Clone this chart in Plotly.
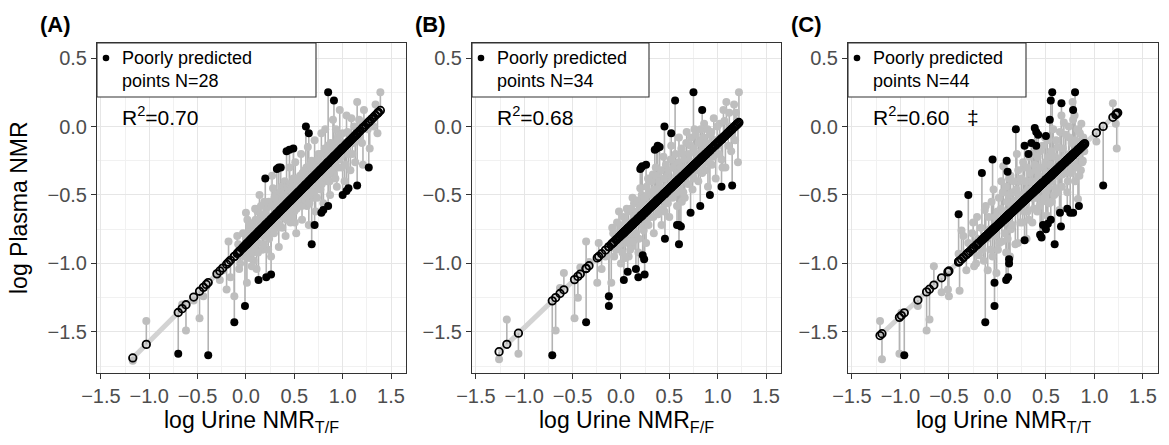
import plotly.graph_objects as go

W, H = 1169, 445

# ---------------- data ----------------
# observed points (x = log urine NMR, y = log plasma NMR), well predicted (grey)
A_OBS = [(-1.17,-1.71),(-1.03,-1.42),(-0.66,-1.30),(-0.62,-1.49),(-0.54,-1.27),(-0.48,-1.40),(-0.44,-1.24),
         (-0.41,-1.17),(-0.30,-1.07),(-0.27,-1.12),(-0.24,-1.05),(-0.20,-1.19),(-0.18,-0.84),(-0.16,-1.10),
         (-0.12,-1.24),(-0.08,-0.86),(-0.07,-1.04),(-0.04,-0.93),(0.00,-0.63),(0.01,-1.14),(0.03,-0.70),
         (0.05,-0.84),(0.08,-0.98),(0.11,-1.04),(0.12,-0.62),(0.14,-0.50),(0.15,-0.76),(0.17,-0.90),
         (0.19,-0.55),(0.22,-0.70),(0.24,-0.82),(0.26,-0.95),(0.27,-0.36),(0.28,-0.45),(0.30,-0.60),
         (0.32,-0.74),(0.34,-0.88),(0.36,-0.52),(0.38,-0.66),(0.40,-0.40),(0.41,-0.80),(0.43,-0.56),
         (0.45,-0.30),(0.46,-0.70),(0.48,-0.48),(0.50,-0.62),(0.51,-0.26),(0.52,-0.78),(0.54,-0.40),
         (0.55,-0.55),(0.57,-0.20),(0.58,-0.68),(0.60,-0.46),(0.61,-0.32),(0.63,-0.58),(0.64,-0.15),
         (0.65,-0.72),(0.67,-0.40),(0.68,-0.25),(0.70,-0.52),(0.71,-0.10),(0.72,-0.62),(0.74,-0.34),
         (0.75,-0.20),(0.77,-0.46),(0.78,-0.05),(0.80,-0.56),(0.81,-0.28),(0.82,-0.02),(0.84,-0.40),
         (0.85,-0.14),(0.87,-0.50),(0.88,-0.24),(0.90,0.05),(0.91,-0.35),(0.93,-0.02),(0.94,-0.44),
         (0.96,-0.16),(0.97,0.12),(0.99,-0.30),(1.00,-0.05),(1.02,-0.40),(1.04,0.08),(1.06,-0.20),
         (1.08,-0.32),(1.09,0.06),(1.11,-0.12),(1.13,-0.26),(1.15,0.18),(1.18,-0.08),(1.21,-0.28),
         (1.24,0.02),(1.28,-0.16),(1.30,0.05),(1.34,0.16),(1.36,-0.05),(1.37,0.10),(1.39,0.25),
         (-0.09,-0.80),(-0.06,-1.00),(-0.03,-0.78),(-0.02,-0.95),(0.02,-0.92),(0.04,-0.76),(0.06,-1.02),
         (0.07,-0.72),(0.09,-0.88),(0.10,-0.68),(0.13,-0.85),(0.16,-0.66),(0.18,-0.80),(0.21,-0.60),
         (0.23,-0.90),(0.25,-0.66),(0.29,-0.78),(0.31,-0.50),(0.33,-0.62),(0.35,-0.72),(0.37,-0.44),
         (0.39,-0.58),(0.42,-0.68),(0.44,-0.46),(0.47,-0.60),(0.49,-0.38),(0.505,-0.70),(0.53,-0.50),
         (0.56,-0.36),(0.59,-0.56),(0.62,-0.40),(0.66,-0.50),(0.69,-0.30),(0.73,-0.44),(0.76,-0.28),
         (0.79,-0.40),(0.83,-0.22),(0.86,-0.34),(0.89,-0.16),(0.92,-0.28),(0.95,-0.08),(0.98,-0.22),
         (1.01,-0.12),(1.03,-0.28),(1.05,-0.04),(1.07,-0.10),(1.10,-0.20),(1.12,0.00),(1.14,-0.10),
         (1.17,0.05),(1.20,-0.12),(1.22,0.12),(1.26,-0.02),(1.32,0.00),
         (0.205,-0.64),(0.215,-0.78),(0.235,-0.55),(0.255,-0.74),(0.265,-0.58),(0.285,-0.70),(0.295,-0.52),
         (0.315,-0.68),(0.325,-0.56),(0.345,-0.64),(0.355,-0.48),(0.365,-0.62),(0.375,-0.74),(0.385,-0.50),
         (0.395,-0.66),(0.405,-0.52),(0.415,-0.62),(0.425,-0.44),(0.435,-0.64),(0.445,-0.54),(0.455,-0.42),
         (0.465,-0.58),(0.475,-0.66),(0.485,-0.44),(0.495,-0.56),(0.515,-0.46),(0.525,-0.60),(0.535,-0.38),
         (0.545,-0.52),(0.565,-0.44),(0.575,-0.58),(0.585,-0.34),(0.595,-0.50),(0.605,-0.40),(0.615,-0.54),
         (0.625,-0.30),(0.635,-0.46),(0.645,-0.36),(0.655,-0.56),(0.665,-0.28),(0.675,-0.44),(0.685,-0.36),
         (0.695,-0.48),(0.705,-0.26),(0.715,-0.40),(0.725,-0.30),(0.735,-0.52),(0.745,-0.24),(0.755,-0.38),
         (0.765,-0.32),(0.775,-0.20),(0.785,-0.42),(0.795,-0.26),(0.805,-0.34),(0.815,-0.16),(0.825,-0.38),
         (0.835,-0.26),(0.845,-0.30),(0.855,-0.20),(0.865,-0.40),(0.875,-0.12),(0.885,-0.32),(0.895,-0.22),
         (0.905,-0.14),(0.915,-0.26),(0.925,-0.38),(0.935,-0.18),(0.945,-0.10),(0.955,-0.30),(0.965,-0.24),
         (0.975,-0.06),(0.985,-0.18),(0.995,-0.12),
         (0.005,-0.80),(0.015,-0.68),(0.025,-0.88),(0.035,-0.96),(0.045,-0.72),(0.055,-0.86),(0.065,-0.80),
         (0.075,-0.92),(0.085,-0.76),(0.095,-0.60),(0.105,-0.84),(0.115,-0.74),(0.125,-0.92),(0.135,-0.68),
         (0.145,-0.78),(0.155,-0.58),(0.165,-0.72),(0.175,-0.64),(0.185,-0.86),(0.195,-0.70)]
A_POOR = [(0.85,0.25),(0.91,0.19),(0.62,0.00),(0.65,-0.05),(0.49,-0.16),(0.42,-0.18),(0.45,-0.17),
          (0.34,-0.30),(0.32,-0.31),(0.20,-0.38),(1.27,-0.30),(1.15,-0.43),(1.06,-0.45),(1.04,-0.47),
          (1.00,-0.50),(0.85,-0.58),(0.78,-0.63),(0.71,-0.72),(0.68,-0.86),(0.26,-1.08),(0.21,-1.10),
          (0.13,-1.12),(-0.01,-1.31),(-0.12,-1.43),(-0.70,-1.66),(-0.39,-1.67),(0.80,-0.61),(0.36,-0.30)]
A_FIT = (-0.864, 0.706)   # intercept, slope of the fitted line

B_OBS = [(-1.26,-1.70),(-1.18,-1.41),(-1.06,-1.66),(-0.675,-1.49),(-0.63,-1.18),(-0.59,-1.07),(-0.48,-1.40),
         (-0.445,-1.25),(-0.42,-1.03),(-0.36,-0.84),(-0.33,-0.99),(-0.245,-1.14),(-0.23,-0.85),(-0.20,-1.04),
         (-0.16,-0.95),(-0.10,-1.14),(-0.08,-0.78),(-0.05,-0.90),(-0.02,-0.62),(0.00,-1.00),(0.02,-0.72),
         (0.03,-0.80),(0.04,-0.85),(0.06,-0.60),(0.08,-0.95),(0.10,-0.70),(0.11,-0.88),(0.12,-0.52),
         (0.13,-0.66),(0.14,-0.82),(0.16,-0.62),(0.18,-0.92),(0.20,-0.45),(0.21,-0.56),(0.22,-0.72),
         (0.24,-0.58),(0.26,-0.85),(0.27,-0.68),(0.28,-0.38),(0.30,-0.66),(0.32,-0.50),(0.33,-0.35),
         (0.34,-0.78),(0.36,-0.30),(0.38,-0.60),(0.40,-0.44),(0.42,-0.72),(0.44,-0.22),(0.45,-0.62),
         (0.46,-0.54),(0.48,-0.36),(0.50,-0.66),(0.52,-0.14),(0.54,-0.46),(0.56,-0.28),(0.57,-0.36),
         (0.58,-0.58),(0.60,-0.08),(0.62,-0.40),(0.63,-0.55),(0.64,-0.20),(0.66,-0.52),(0.68,-0.04),
         (0.69,-0.22),(0.70,-0.32),(0.72,-0.14),(0.74,-0.46),(0.75,-0.38),(0.76,-0.02),(0.78,-0.26),
         (0.80,-0.40),(0.82,-0.10),(0.84,-0.34),(0.85,-0.14),(0.86,0.02),(0.88,-0.20),(0.90,-0.44),
         (0.92,-0.06),(0.94,-0.28),(0.96,0.06),(0.98,-0.38),(1.00,-0.14),(1.02,0.02),(1.04,-0.24),
         (1.06,0.12),(1.08,-0.30),(1.09,0.18),(1.10,-0.06),(1.12,0.10),(1.14,-0.18),(1.17,0.16),
         (1.18,-0.10),(1.20,0.04),(1.21,-0.26),(1.22,0.25),
         (-0.09,-0.74),(-0.07,-0.95),(-0.04,-0.70),(-0.01,-0.86),(0.005,-0.74),(0.015,-0.92),(0.025,-0.66),
         (0.035,-0.78),(0.045,-0.96),(0.055,-0.70),(0.065,-0.84),(0.075,-0.62),(0.085,-0.78),(0.095,-0.90),
         (0.105,-0.60),(0.115,-0.74),(0.125,-0.84),(0.135,-0.56),(0.145,-0.70),(0.155,-0.78),(0.165,-0.54),
         (0.175,-0.68),(0.185,-0.82),(0.195,-0.58),(0.205,-0.70),(0.215,-0.50),(0.225,-0.62),(0.235,-0.76),
         (0.245,-0.52),(0.255,-0.66),(0.265,-0.44),(0.275,-0.58),(0.285,-0.72),(0.295,-0.48),(0.305,-0.60),
         (0.315,-0.40),(0.325,-0.56),(0.335,-0.66),(0.345,-0.46),(0.355,-0.58),(0.365,-0.36),(0.375,-0.50),
         (0.385,-0.64),(0.395,-0.40),(0.405,-0.54),(0.415,-0.32),(0.425,-0.48),(0.435,-0.60),(0.445,-0.38),
         (0.455,-0.50),(0.465,-0.28),(0.475,-0.44),(0.485,-0.56),(0.495,-0.32),(0.505,-0.46),(0.515,-0.24),
         (0.525,-0.40),(0.535,-0.52),(0.545,-0.30),(0.555,-0.42),(0.565,-0.20),(0.575,-0.48),(0.585,-0.34),
         (0.595,-0.26),(0.605,-0.44),(0.615,-0.30),(0.625,-0.16),(0.635,-0.36),(0.645,-0.48),(0.655,-0.24),
         (0.665,-0.38),(0.675,-0.12),(0.685,-0.30),(0.695,-0.42),(0.705,-0.20),(0.715,-0.34),(0.725,-0.08),
         (0.735,-0.26),(0.745,-0.36),(0.755,-0.16),(0.765,-0.30),(0.775,-0.06),(0.785,-0.20),(0.795,-0.32),
         (0.805,-0.12),(0.815,-0.24),(0.825,-0.02),(0.835,-0.18),(0.845,-0.28),(0.855,-0.08),(0.865,-0.22),
         (0.875,-0.32),(0.885,-0.12),(0.895,-0.02),(0.905,-0.26),(0.915,-0.16),(0.935,-0.04),(0.955,-0.22),
         (0.975,-0.10),(0.995,0.00),(1.01,-0.20),(1.03,-0.08),(1.05,-0.30),(1.07,0.04),(1.11,-0.14),
         (1.13,0.00),(1.15,-0.06),(1.19,0.10)]
B_POOR = [(0.75,0.25),(0.56,0.19),(0.84,0.12),(0.45,0.00),(0.52,-0.05),(0.35,-0.17),(0.38,-0.14),
          (0.40,-0.15),(0.20,-0.31),(0.22,-0.29),(0.26,-0.28),(1.04,-0.44),(1.15,-0.43),(0.92,-0.50),
          (0.82,-0.58),(0.72,-0.63),(0.60,-0.72),(0.62,-0.73),(0.455,-0.82),(0.60,-0.86),(0.225,-0.94),
          (0.24,-0.97),(0.07,-1.06),(0.155,-1.04),(0.18,-1.10),(0.245,-1.08),(0.03,-1.12),(-0.125,-1.24),
          (-0.125,-1.31),(-0.36,-1.43),(-0.71,-1.67),(0.37,-0.16),(0.21,-0.30),(0.58,-0.72)]
B_FIT = (-0.794, 0.675)

C_OBS = [(-1.21,-1.42),(-1.19,-1.70),(-1.01,-1.66),(-0.99,-1.36),(-0.82,-1.31),(-0.73,-1.49),(-0.70,-1.41),
         (-0.655,-1.02),(-0.575,-1.21),(-0.51,-1.19),(-0.50,-1.24),(-0.40,-0.93),(-0.39,-1.20),(-0.37,-0.76),
         (-0.30,-0.85),(-0.25,-0.70),(-0.22,-1.00),(-0.20,-0.82),(-0.15,-0.90),(-0.13,-0.61),(-0.10,-1.05),
         (-0.08,-0.75),(-0.05,-0.95),(-0.04,-0.46),(-0.01,-1.07),(0.00,-0.62),(0.02,-0.85),(0.04,-0.40),
         (0.06,-0.29),(0.07,-0.70),(0.09,-0.92),(0.10,-0.55),(0.12,-0.38),(0.13,-0.95),(0.14,-0.75),
         (0.16,-0.48),(0.18,-0.62),(0.20,-0.20),(0.21,-0.85),(0.22,-0.40),(0.24,-0.55),(0.26,-0.70),
         (0.27,-0.30),(0.29,-0.48),(0.30,-0.82),(0.31,-0.62),(0.33,-0.22),(0.34,-0.40),(0.36,-0.70),
         (0.37,-0.12),(0.38,-0.52),(0.40,-0.32),(0.41,-0.62),(0.43,-0.45),(0.44,-0.18),(0.46,-0.55),
         (0.47,-0.30),(0.49,-0.08),(0.50,-0.48),(0.51,-0.65),(0.53,-0.22),(0.55,-0.38),(0.56,-0.55),
         (0.575,-0.02),(0.58,-0.30),(0.60,-0.45),(0.62,-0.15),(0.64,-0.61),(0.66,0.08),(0.67,-0.35),
         (0.685,0.03),(0.70,-0.22),(0.72,-0.48),(0.74,-0.08),(0.76,-0.30),(0.775,0.18),(0.78,0.05),
         (0.80,-0.40),(0.82,-0.18),(0.83,-0.53),(0.85,-0.05),(0.86,-0.32),(0.88,-0.25),(0.90,-0.12),
         (1.02,-0.11),(1.19,0.17),(1.22,0.02),(1.23,-0.16),(1.24,0.10),
         (-0.35,-0.80),(-0.32,-1.05),(-0.28,-0.92),(-0.26,-0.78),(-0.24,-1.02),(-0.21,-0.66),(-0.19,-0.94),
         (-0.17,-0.74),(-0.14,-0.98),(-0.12,-0.58),(-0.11,-0.82),(-0.09,-0.66),(-0.07,-0.90),(-0.06,-0.55),
         (-0.03,-0.80),(-0.02,-0.66),(0.005,-0.90),(0.015,-0.52),(0.025,-0.72),(0.035,-0.60),(0.045,-0.84),
         (0.055,-0.48),(0.065,-0.62),(0.075,-0.78),(0.085,-0.44),(0.095,-0.66),(0.105,-0.82),(0.115,-0.50),
         (0.125,-0.62),(0.135,-0.36),(0.145,-0.58),(0.155,-0.72),(0.165,-0.40),(0.175,-0.54),(0.185,-0.86),
         (0.195,-0.46),(0.205,-0.60),(0.215,-0.32),(0.225,-0.50),(0.235,-0.70),(0.245,-0.38),(0.255,-0.52),
         (0.265,-0.26),(0.275,-0.62),(0.285,-0.40),(0.295,-0.56),(0.305,-0.30),(0.315,-0.46),(0.325,-0.68),
         (0.335,-0.34),(0.345,-0.52),(0.355,-0.20),(0.365,-0.44),(0.375,-0.60),(0.385,-0.28),(0.395,-0.40),
         (0.405,-0.52),(0.415,-0.22),(0.425,-0.36),(0.435,-0.58),(0.445,-0.30),(0.455,-0.44),(0.465,-0.14),
         (0.475,-0.38),(0.485,-0.52),(0.495,-0.26),(0.505,-0.34),(0.515,-0.10),(0.525,-0.44),(0.535,-0.56),
         (0.545,-0.28),(0.555,-0.18),(0.565,-0.40),(0.585,-0.50),(0.595,-0.22),(0.605,-0.10),(0.615,-0.36),
         (0.625,-0.48),(0.635,-0.24),(0.645,-0.04),(0.655,-0.30),(0.665,-0.44),(0.675,-0.16),(0.695,-0.34),
         (0.705,-0.06),(0.715,-0.26),(0.725,-0.40),(0.735,0.00),(0.745,-0.20),(0.755,-0.34),(0.765,-0.12),
         (0.785,-0.26),(0.795,0.08),(0.805,-0.10),(0.815,-0.30),(0.825,-0.02),(0.835,-0.20),(0.845,-0.36),
         (0.855,-0.14),(0.865,0.02),(0.875,-0.26),(0.885,-0.08),(0.895,-0.18)]
C_POOR = [(0.565,0.25),(0.80,0.25),(0.55,0.19),(0.66,0.17),(0.78,0.12),(0.54,0.05),(0.19,-0.02),
          (0.385,-0.01),(0.40,-0.04),(0.42,-0.06),(0.50,-0.07),(0.28,-0.14),(0.40,-0.14),(0.32,-0.20),
          (-0.05,-0.24),(0.095,-0.25),(-0.16,-0.34),(0.105,-0.33),(-0.30,-0.50),(-0.40,-0.64),(1.09,-0.43),
          (0.84,-0.58),(0.75,-0.63),(0.78,-0.63),(0.645,-0.63),(0.55,-0.68),(0.655,-0.73),(0.47,-0.72),
          (0.50,-0.75),(0.44,-0.79),(0.455,-0.81),(0.28,-0.83),(0.59,-0.86),(0.12,-0.97),(0.11,-1.10),
          (0.09,-1.12),(-0.03,-1.14),(-0.03,-1.31),(-0.125,-1.43),(-0.96,-1.67),(0.72,-0.60),(0.35,-0.12),
          (0.12,-1.00),(0.52,-0.71)]
C_FIT = (-0.723, 0.664)

PANEL_LABELS = ["(A)", "(B)", "(C)"]
SUBSCRIPTS = ["T/F", "F/F", "T/T"]
N_POOR = [28, 34, 44]
R2 = ["0.70", "0.68", "0.60"]
X_TICKS = [-1.5, -1.0, -0.5, 0.0, 0.5, 1.0, 1.5]
Y_TICKS = [-1.5, -1.0, -0.5, 0.0, 0.5]

# ---------------- layout geometry (pixels) ----------------
PANEL_X = [(97, 406), (472, 781), (848, 1158)]
PANEL_TOP, PANEL_BOTTOM = 43, 373
LEGEND_RIGHT = [316, 649, 1026]
X_RANGE = [-1.54, 1.655]
Y_RANGE = [-1.80, 0.61]

FONT = "Liberation Sans, Arial, Helvetica, sans-serif"
OBS_GREY = "#bebebe"
SEG_GREY = "#b3b3b3"
LINE_GREY = "#d3d3d3"


def px(x):
    return x / W


def py(y):
    return 1 - y / H


fig = go.Figure()
panels = [(A_OBS, A_POOR, A_FIT), (B_OBS, B_POOR, B_FIT), (C_OBS, C_POOR, C_FIT)]

for i, (obs, poor, fit) in enumerate(panels):
    xa = "x" if i == 0 else f"x{i+1}"
    ya = "y" if i == 0 else f"y{i+1}"
    b0, b1 = fit
    allpts = obs + poor
    xs = [p[0] for p in allpts]
    ys = [p[1] for p in allpts]
    preds = [b0 + b1 * x for x in xs]
    xmin, xmax = min(xs), max(xs)
    # regression line
    fig.add_trace(go.Scatter(x=[xmin, xmax], y=[b0 + b1 * xmin, b0 + b1 * xmax], mode="lines",
                             line=dict(color=LINE_GREY, width=5), xaxis=xa, yaxis=ya,
                             showlegend=False, hoverinfo="skip"))
    # residual segments
    sx, sy = [], []
    for x, y, p in zip(xs, ys, preds):
        sx += [x, x, None]
        sy += [y, p, None]
    fig.add_trace(go.Scatter(x=sx, y=sy, mode="lines", line=dict(color=SEG_GREY, width=1.6),
                             xaxis=xa, yaxis=ya, showlegend=False, hoverinfo="skip"))
    # observed, well predicted
    fig.add_trace(go.Scatter(x=[p[0] for p in obs], y=[p[1] for p in obs], mode="markers",
                             marker=dict(color=OBS_GREY, size=8, line=dict(width=0)),
                             xaxis=xa, yaxis=ya, showlegend=False))
    # predicted values (open circles)
    fig.add_trace(go.Scatter(x=xs, y=preds, mode="markers",
                             marker=dict(symbol="circle-open", color="black", size=7.5,
                                         line=dict(width=1.8, color="black")),
                             xaxis=xa, yaxis=ya, showlegend=False))
    # poorly predicted observed points
    fig.add_trace(go.Scatter(x=[p[0] for p in poor], y=[p[1] for p in poor], mode="markers",
                             marker=dict(color="black", size=8, line=dict(width=0)),
                             xaxis=xa, yaxis=ya, showlegend=False))

layout = dict(
    width=W, height=H, margin=dict(l=0, r=0, t=0, b=0, autoexpand=False),
    paper_bgcolor="white", plot_bgcolor="white",
    font=dict(family=FONT, color="black"),
    showlegend=False, shapes=[], annotations=[],
)

for i in range(3):
    xk = "xaxis" if i == 0 else f"xaxis{i+1}"
    yk = "yaxis" if i == 0 else f"yaxis{i+1}"
    xa_ref = "x" if i == 0 else f"x{i+1}"
    ya_ref = "y" if i == 0 else f"y{i+1}"
    x0, x1 = PANEL_X[i]
    common = dict(showgrid=True, gridcolor="#e6e6e6", gridwidth=1.4, zeroline=False,
                  showline=True, mirror=True, linecolor="#333333", linewidth=1.1,
                  ticks="outside", ticklen=5, tickwidth=1.1, tickcolor="#333333",
                  tickfont=dict(family=FONT, size=20, color="#4d4d4d"), tickformat=".1f",
                  automargin=False,
                  minor=dict(dtick=0.25, tick0=0, showgrid=True, gridcolor="#f1f1f1", gridwidth=0.9,
                             ticks=""))
    layout[xk] = dict(common, domain=[px(x0), px(x1)], range=X_RANGE, tickvals=X_TICKS,
                      anchor=ya_ref)
    layout[yk] = dict(common, domain=[py(PANEL_BOTTOM), py(PANEL_TOP)], range=Y_RANGE,
                      tickvals=Y_TICKS, anchor=xa_ref)

    # legend box
    layout["shapes"].append(dict(type="rect", xref="paper", yref="paper",
                                 x0=px(x0), x1=px(LEGEND_RIGHT[i]), y0=py(97), y1=py(PANEL_TOP),
                                 fillcolor="white", line=dict(color="#333333", width=1.1),
                                 layer="above"))
    layout["shapes"].append(dict(type="circle", xref="paper", yref="paper",
                                 x0=px(x0 + 9 - 3.3), x1=px(x0 + 9 + 3.3),
                                 y0=py(58 + 3.3), y1=py(58 - 3.3),
                                 fillcolor="black", line=dict(color="black", width=0), layer="above"))
    layout["annotations"].append(dict(xref="paper", yref="paper", x=px(x0 + 23), y=py(69),
                                      xanchor="left", yanchor="middle", align="left",
                                      text=f"Poorly predicted<br>points N={N_POOR[i]}",
                                      showarrow=False, font=dict(family=FONT, size=18, color="black")))
    r2_text = f"R<sup>2</sup>={R2[i]}"
    if i == 2:
        r2_text += "   ‡"
    layout["annotations"].append(dict(xref="paper", yref="paper", x=px(x0 + 23), y=py(116),
                                      xanchor="left", yanchor="middle", text=r2_text,
                                      showarrow=False, font=dict(family=FONT, size=21, color="black")))
    # panel label
    layout["annotations"].append(dict(xref="paper", yref="paper", x=px(x0 - 59), y=py(24),
                                      xanchor="left", yanchor="middle", text=f"<b>{PANEL_LABELS[i]}</b>",
                                      showarrow=False, font=dict(family=FONT, size=22, color="black")))
    # x title
    layout["annotations"].append(dict(xref="paper", yref="paper", x=px((x0 + x1) / 2), y=py(421),
                                      xanchor="center", yanchor="middle",
                                      text=f"log Urine NMR<sub>{SUBSCRIPTS[i]}</sub>",
                                      showarrow=False, font=dict(family=FONT, size=23, color="black")))

layout["annotations"].append(dict(xref="paper", yref="paper", x=px(19), y=py(208), textangle=-90,
                                  xanchor="center", yanchor="middle", text="log Plasma NMR",
                                  showarrow=False, font=dict(family=FONT, size=23, color="black")))

fig.update_layout(**layout)
fig.write_html("out.html")
